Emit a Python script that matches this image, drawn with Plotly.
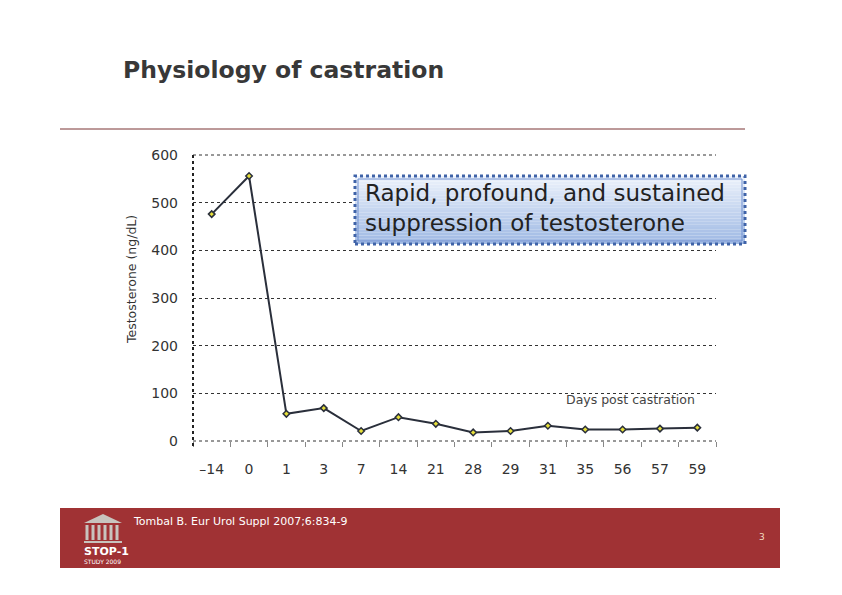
import plotly.graph_objects as go

days = ["–14", "0", "1", "3", "7", "14", "21", "28", "29", "31", "35", "56", "57", "59"]
testosterone = [476, 556, 57, 69, 21, 50, 36, 18, 21, 32, 24, 24, 26, 28]
y_ticks = [0, 100, 200, 300, 400, 500, 600]

W, H = 842, 595
OFF = 8  # page body margin
L, R, T, B = 193 - OFF, 716 - OFF, 155 - OFF, 441 - OFF

def px(x):
    return (x - OFF - L) / (R - L)

def py(y):
    return (B - (y - OFF)) / (B - T)

FONT = "DejaVu Sans"

fig = go.Figure()
fig.add_trace(go.Scatter(
    x=days, y=testosterone, mode="lines+markers",
    line=dict(color="#2a2f3b", width=2),
    marker=dict(symbol="diamond", size=5, color="#e6df3a",
                line=dict(color="#2a2f3b", width=1.5)),
    hoverinfo="x+y", showlegend=False,
))

shapes = []
# top and bottom grid lines (edges)
for yy in [0, 1]:
    shapes.append(dict(type="line", xref="paper", yref="paper", x0=0, x1=1, y0=yy, y1=yy,
                       line=dict(color="#333333", width=1, dash="dot")))
# left axis line (dotted)
shapes.append(dict(type="line", xref="paper", yref="paper", x0=0, x1=0, y0=py(446), y1=1,
                   line=dict(color="#222222", width=2, dash="dot")))
# title underline
shapes.append(dict(type="line", xref="paper", yref="paper", x0=px(60), x1=px(745),
                   y0=py(129), y1=py(129), line=dict(color="#7a3434", width=1)))
# footer band
shapes.append(dict(type="rect", xref="paper", yref="paper", x0=px(60), x1=px(780),
                   y0=py(568), y1=py(508), fillcolor="#a03234", line=dict(width=0)))
# gradient callout box
bx0, bx1, by0, by1 = 355, 745, 176, 244
n = 24
c0 = (236, 242, 252)
c1 = (160, 186, 228)
for i in range(n):
    t = i / (n - 1)
    col = tuple(int(c0[k] + (c1[k] - c0[k]) * t) for k in range(3))
    ya = by0 + (by1 - by0) * i / n
    yb = by0 + (by1 - by0) * (i + 1) / n
    shapes.append(dict(type="rect", xref="paper", yref="paper",
                       x0=px(bx0), x1=px(bx1), y0=py(yb), y1=py(ya),
                       fillcolor="rgb(%d,%d,%d)" % col, line=dict(width=0), layer="above"))
shapes.append(dict(type="rect", xref="paper", yref="paper",
                   x0=px(bx0), x1=px(bx1), y0=py(by1), y1=py(by0),
                   fillcolor="rgba(0,0,0,0)", line=dict(color="#3f63a8", width=3, dash="dot"),
                   layer="above"))
shapes.append(dict(type="rect", xref="paper", yref="paper",
                   x0=px(bx0 + 3), x1=px(bx1 - 3), y0=py(by1 - 3), y1=py(by0 + 3),
                   fillcolor="rgba(0,0,0,0)", line=dict(color="#6f8fd0", width=1),
                   layer="above"))
# logo (temple) approximation
shapes.append(dict(type="path", xref="paper", yref="paper",
                   path="M %f %f L %f %f L %f %f Z" % (px(84), py(523), px(103), py(514), px(122), py(523)),
                   fillcolor="#c8c4be", line=dict(width=0)))
for cx in [87, 93, 99, 105, 111, 117]:
    shapes.append(dict(type="rect", xref="paper", yref="paper",
                       x0=px(cx - 1.5), x1=px(cx + 1.5), y0=py(540), y1=py(525),
                       fillcolor="#c8c4be", line=dict(width=0)))
shapes.append(dict(type="rect", xref="paper", yref="paper",
                   x0=px(84), x1=px(122), y0=py(543), y1=py(541),
                   fillcolor="#c8c4be", line=dict(width=0)))

annotations = [
    dict(text="<b>Physiology of castration</b>", xref="paper", yref="paper",
         x=px(121), y=py(70), xanchor="left", yanchor="middle", showarrow=False,
         font=dict(family=FONT, size=23.5, color="#383838")),
    dict(text="Rapid, profound, and sustained<br>suppression of testosterone",
         xref="paper", yref="paper", x=px(363), y=py(208), xanchor="left", yanchor="middle",
         align="left", showarrow=False,
         font=dict(family=FONT, size=23, color="#222222")),
    dict(text="Days post castration", xref="paper", yref="paper", x=px(697), y=py(399),
         xanchor="right", yanchor="middle", showarrow=False,
         font=dict(family=FONT, size=12.5, color="#444444")),
    dict(text="Testosterone (ng/dL)", xref="paper", yref="paper", x=px(131), y=py(280),
         xanchor="center", yanchor="middle", textangle=-90, showarrow=False,
         font=dict(family=FONT, size=12.5, color="#333333")),
    dict(text="Tombal B. Eur Urol Suppl 2007;6:834-9", xref="paper", yref="paper",
         x=px(131), y=py(521), xanchor="left", yanchor="middle", showarrow=False,
         font=dict(family=FONT, size=11, color="#ffffff")),
    dict(text="3", xref="paper", yref="paper", x=px(762), y=py(537),
         xanchor="center", yanchor="middle", showarrow=False,
         font=dict(family=FONT, size=9, color="#f3dcc0")),
    dict(text="<b>STOP-1</b>", xref="paper", yref="paper", x=px(82), y=py(551),
         xanchor="left", yanchor="middle", showarrow=False,
         font=dict(family=FONT, size=11, color="#ffffff")),
    dict(text="STUDY 2009", xref="paper", yref="paper", x=px(82), y=py(561),
         xanchor="left", yanchor="middle", showarrow=False,
         font=dict(family=FONT, size=6, color="#ffffff")),
]

fig.update_layout(
    width=W, height=H,
    margin=dict(l=L, r=W - R, t=T, b=H - B, pad=0),
    paper_bgcolor="white", plot_bgcolor="white",
    shapes=shapes, annotations=annotations,
    xaxis=dict(type="category", categoryorder="array", categoryarray=days,
               range=[-0.5, len(days) - 0.5],
               showgrid=False, zeroline=False, showline=False,
               ticks="outside", tickson="boundaries", ticklen=5, tickwidth=1,
               tickcolor="#888888", ticklabelstandoff=18,
               tickfont=dict(family=FONT, size=14, color="#333333")),
    yaxis=dict(range=[0, 600], tickvals=y_ticks, showgrid=True,
               gridcolor="#333333", gridwidth=1, griddash="dot",
               zeroline=False, showline=False, ticks="",
               ticklabelstandoff=14,
               tickfont=dict(family=FONT, size=14, color="#333333")),
    font=dict(family=FONT),
)

fig.write_html("out.html")
